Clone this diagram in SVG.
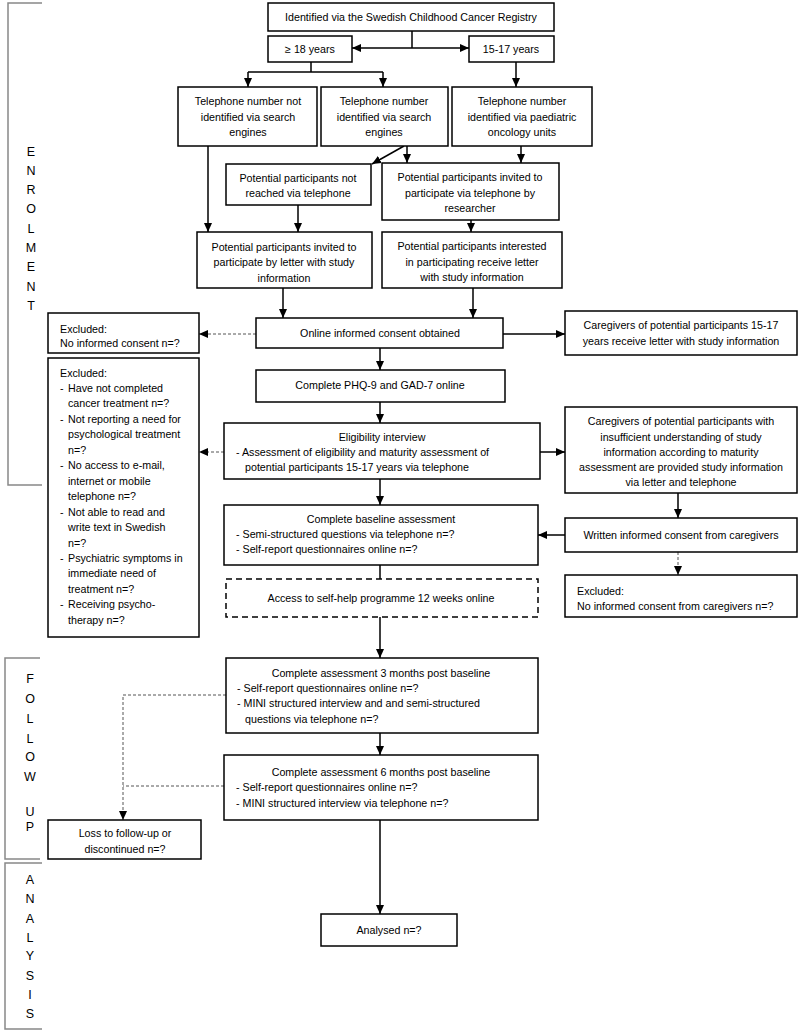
<svg xmlns="http://www.w3.org/2000/svg" width="800" height="1031" viewBox="0 0 800 1031">
<style>
.b{fill:#fff;stroke:#000;stroke-width:1.5}
.d{fill:#fff;stroke:#000;stroke-width:1.5;stroke-dasharray:6 4}
.t{font-family:"Liberation Sans",Arial,sans-serif;font-size:10.7px;fill:#000}
.c{text-anchor:middle}
.c2{fill:none;stroke:#000;stroke-width:1.5}
.dl{fill:none;stroke:#555;stroke-width:1;stroke-dasharray:3 2}
.br{fill:none;stroke:#888;stroke-width:1.5}
.lt{font-family:"Liberation Sans",Arial,sans-serif;font-size:12.5px;fill:#000;text-anchor:middle}
</style>
<defs>
<marker id="a" markerWidth="10" markerHeight="10" refX="9" refY="5" orient="auto" markerUnits="userSpaceOnUse"><path d="M0,1 L9,5 L0,9 z" fill="#000"/></marker>
</defs>
<g id="brackets">
<path class="br" d="M42,3 H8 V485 H42"/>
<path class="br" d="M40,658 H5 V859 H40"/>
<path class="br" d="M42,863 H5 V1029 H42"/>
<g id="enrolment-label">
<text class="lt" x="31" y="156">E</text><text class="lt" x="31" y="175">N</text><text class="lt" x="31" y="194">R</text><text class="lt" x="31" y="213">O</text><text class="lt" x="31" y="233">L</text><text class="lt" x="31" y="252">M</text><text class="lt" x="31" y="271">E</text><text class="lt" x="31" y="291">N</text><text class="lt" x="31" y="310">T</text>
</g>
<g id="followup-label">
<text class="lt" x="30" y="683">F</text><text class="lt" x="30" y="703">O</text><text class="lt" x="30" y="723">L</text><text class="lt" x="30" y="743">L</text><text class="lt" x="30" y="761">O</text><text class="lt" x="30" y="781">W</text><text class="lt" x="30" y="816">U</text><text class="lt" x="30" y="831">P</text>
</g>
<g id="analysis-label">
<text class="lt" x="30" y="884">A</text><text class="lt" x="30" y="903">N</text><text class="lt" x="30" y="923">A</text><text class="lt" x="30" y="942">L</text><text class="lt" x="30" y="960">Y</text><text class="lt" x="30" y="980">S</text><text class="lt" x="30" y="999">I</text><text class="lt" x="30" y="1018">S</text>
</g>
</g>
<g id="connectors">
<path class="c2" d="M412,31 V48"/>
<path class="c2" d="M412,48 H352" marker-end="url(#a)"/>
<path class="c2" d="M412,48 H469" marker-end="url(#a)"/>
<path class="c2" d="M311,62 V72 M248,72 H383"/>
<path class="c2" d="M248,72 V87" marker-end="url(#a)"/>
<path class="c2" d="M383,72 V87" marker-end="url(#a)"/>
<path class="c2" d="M516,62 V87" marker-end="url(#a)"/>
<path class="c2" d="M208,146 V232" marker-end="url(#a)"/>
<path class="c2" d="M404,146 L372,164" marker-end="url(#a)"/>
<path class="c2" d="M407,146 V163" marker-end="url(#a)"/>
<path class="c2" d="M521,146 V163" marker-end="url(#a)"/>
<path class="c2" d="M298,205 V232" marker-end="url(#a)"/>
<path class="c2" d="M471,220 V232" marker-end="url(#a)"/>
<path class="c2" d="M283,288 V318" marker-end="url(#a)"/>
<path class="c2" d="M473,288 V318" marker-end="url(#a)"/>
<path class="dl" d="M256,334 H199" marker-end="url(#a)"/>
<path class="c2" d="M503,334 H565" marker-end="url(#a)"/>
<path class="c2" d="M380,348 V370" marker-end="url(#a)"/>
<path class="c2" d="M380,402 V423" marker-end="url(#a)"/>
<path class="dl" d="M224,452 H199" marker-end="url(#a)"/>
<path class="c2" d="M540,452 H565" marker-end="url(#a)"/>
<path class="c2" d="M380,479 V505" marker-end="url(#a)"/>
<path class="c2" d="M678,493 V518" marker-end="url(#a)"/>
<path class="c2" d="M565,535 H538" marker-end="url(#a)"/>
<path class="dl" d="M678,552 V575" marker-end="url(#a)"/>
<path class="c2" d="M380,565 V579"/>
<path class="c2" d="M380,617 V658" marker-end="url(#a)"/>
<path class="c2" d="M380,733 V755" marker-end="url(#a)"/>
<path class="dl" d="M226,695 H123 V820" marker-end="url(#a)"/>
<path class="dl" d="M224,786 H123"/>
<path class="c2" d="M380,820 V914" marker-end="url(#a)"/>
</g>
<g id="n-registry"><rect class="b" x="268" y="3" width="286" height="28"/><text class="t c" x="411" y="21">Identified via the Swedish Childhood Cancer Registry</text></g>
<g id="n-adult"><rect class="b" x="268" y="36" width="84" height="26"/><text class="t c" x="310" y="53">≥ 18 years</text></g>
<g id="n-teen"><rect class="b" x="469" y="36" width="85" height="26"/><text class="t c" x="511" y="53">15-17 years</text></g>
<g id="n-notid"><rect class="b" x="178" y="87" width="139" height="59"/><text class="t c" x="248" y="105">Telephone number not</text><text class="t c" x="248" y="121">identified via search</text><text class="t c" x="248" y="136">engines</text></g>
<g id="n-idsearch"><rect class="b" x="321" y="87" width="127" height="59"/><text class="t c" x="384" y="105">Telephone number</text><text class="t c" x="384" y="121">identified via search</text><text class="t c" x="384" y="136">engines</text></g>
<g id="n-paed"><rect class="b" x="452" y="87" width="140" height="59"/><text class="t c" x="522" y="105">Telephone number</text><text class="t c" x="522" y="121">identified via paediatric</text><text class="t c" x="522" y="136">oncology units</text></g>
<g id="n-notreached"><rect class="b" x="226" y="164" width="145" height="41"/><text class="t c" x="298" y="182">Potential participants not</text><text class="t c" x="298" y="197">reached via telephone</text></g>
<g id="n-invtel"><rect class="b" x="382" y="163" width="177" height="57"/><text class="t c" x="470" y="181">Potential participants invited to</text><text class="t c" x="470" y="197">participate via telephone by</text><text class="t c" x="470" y="212">researcher</text></g>
<g id="n-letter"><rect class="b" x="197" y="232" width="175" height="56"/><text class="t c" x="284" y="251">Potential participants invited to</text><text class="t c" x="284" y="266">participate by letter with study</text><text class="t c" x="284" y="282">information</text></g>
<g id="n-interested"><rect class="b" x="382" y="232" width="180" height="56"/><text class="t c" x="472" y="250">Potential participants interested</text><text class="t c" x="472" y="266">in participating receive letter</text><text class="t c" x="472" y="281">with study information</text></g>
<g id="n-consent"><rect class="b" x="256" y="318" width="247" height="30"/><text class="t c" x="380" y="337">Online informed consent obtained</text></g>
<g id="n-excl1"><rect class="b" x="48" y="313" width="151" height="40"/><text class="t" x="60" y="333">Excluded:</text><text class="t" x="60" y="347">No informed consent n=?</text></g>
<g id="n-care1"><rect class="b" x="565" y="311" width="232" height="44"/><text class="t c" x="681" y="329">Caregivers of potential participants 15-17</text><text class="t c" x="681" y="345">years receive letter with study information</text></g>
<g id="n-phq"><rect class="b" x="256" y="370" width="249" height="32"/><text class="t c" x="380" y="389">Complete PHQ-9 and GAD-7 online</text></g>
<g id="n-elig"><rect class="b" x="224" y="423" width="316" height="56"/><text class="t c" x="382" y="441">Eligibility interview</text><text class="t" x="236" y="456">-  Assessment of eligibility and maturity assessment of</text><text class="t" x="245" y="471">potential participants 15-17 years via telephone</text></g>
<g id="n-exclbig"><rect class="b" x="48" y="358" width="151" height="279"/>
<text class="t" x="60" y="377">Excluded:</text>
<text class="t" x="60" y="392">-</text><text class="t" x="68" y="392">Have not completed</text>
<text class="t" x="68" y="407">cancer treatment n=?</text>
<text class="t" x="60" y="423">-</text><text class="t" x="68" y="423">Not reporting a need for</text>
<text class="t" x="68" y="438">psychological treatment</text>
<text class="t" x="68" y="454">n=?</text>
<text class="t" x="60" y="469">-</text><text class="t" x="68" y="469">No access to e-mail,</text>
<text class="t" x="68" y="485">internet or mobile</text>
<text class="t" x="68" y="500">telephone n=?</text>
<text class="t" x="60" y="516">-</text><text class="t" x="68" y="516">Not able to read and</text>
<text class="t" x="68" y="531">write text in Swedish</text>
<text class="t" x="68" y="547">n=?</text>
<text class="t" x="60" y="562">-</text><text class="t" x="68" y="562">Psychiatric symptoms in</text>
<text class="t" x="68" y="577">immediate need of</text>
<text class="t" x="68" y="593">treatment n=?</text>
<text class="t" x="60" y="608">-</text><text class="t" x="68" y="608">Receiving psycho-</text>
<text class="t" x="68" y="624">therapy n=?</text>
</g>
<g id="n-care2"><rect class="b" x="565" y="407" width="232" height="86"/><text class="t c" x="681" y="425">Caregivers of potential participants with</text><text class="t c" x="681" y="441">insufficient understanding of study</text><text class="t c" x="681" y="456">information according to maturity</text><text class="t c" x="681" y="471">assessment are provided study information</text><text class="t c" x="681" y="486">via letter and telephone</text></g>
<g id="n-baseline"><rect class="b" x="224" y="505" width="314" height="60"/><text class="t c" x="381" y="523">Complete baseline assessment</text><text class="t" x="236" y="538">-  Semi-structured questions via telephone n=?</text><text class="t" x="236" y="553">-  Self-report questionnaires online n=?</text></g>
<g id="n-written"><rect class="b" x="565" y="518" width="232" height="34"/><text class="t c" x="681" y="539">Written informed consent from caregivers</text></g>
<g id="n-excl2"><rect class="b" x="565" y="575" width="232" height="42"/><text class="t" x="577" y="595">Excluded:</text><text class="t" x="577" y="610">No informed consent from caregivers n=?</text></g>
<g id="n-selfhelp"><rect class="d" x="226" y="579" width="312" height="38"/><text class="t c" x="381" y="602">Access to self-help programme 12 weeks online</text></g>
<g id="n-m3"><rect class="b" x="226" y="658" width="312" height="75"/><text class="t c" x="381" y="677">Complete assessment 3 months post baseline</text><text class="t" x="237" y="692">-  Self-report questionnaires online n=?</text><text class="t" x="237" y="707">-  MINI structured interview and and semi-structured</text><text class="t" x="245" y="723">questions via telephone n=?</text></g>
<g id="n-m6"><rect class="b" x="224" y="755" width="314" height="65"/><text class="t c" x="381" y="776">Complete assessment 6 months post baseline</text><text class="t" x="236" y="791">-  Self-report questionnaires online n=?</text><text class="t" x="236" y="807">-  MINI structured interview via telephone n=?</text></g>
<g id="n-loss"><rect class="b" x="48" y="820" width="153" height="39"/><text class="t c" x="125" y="837">Loss to follow-up or</text><text class="t c" x="125" y="853">discontinued n=?</text></g>
<g id="n-analysed"><rect class="b" x="321" y="914" width="136" height="32"/><text class="t c" x="389" y="934">Analysed n=?</text></g>
</svg>
